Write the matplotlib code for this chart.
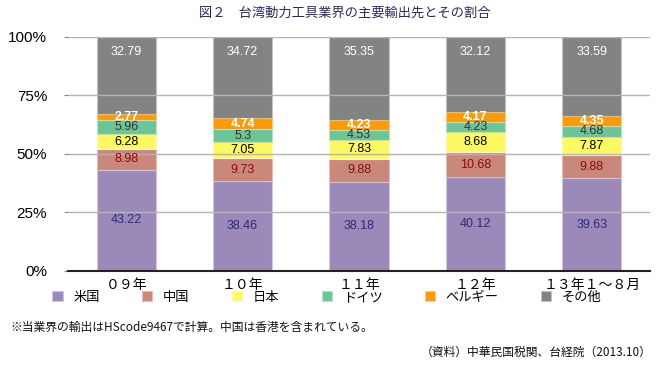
import matplotlib
matplotlib.use("Agg")
import matplotlib.pyplot as plt
import numpy as np

plt.rcParams['font.family'] = ['Liberation Sans', 'Noto Sans CJK JP', 'DejaVu Sans']

categories = ['０９年', '１０年', '１１年', '１２年', '１３年１～８月']
series_names = ['米国', '中国', '日本', 'ドイツ', 'ベルギー', 'その他']
us = [43.22, 38.46, 38.18, 40.12, 39.63]
china = [8.98, 9.73, 9.88, 10.68, 9.88]
japan = [6.28, 7.05, 7.83, 8.68, 7.87]
germany = [5.96, 5.3, 4.53, 4.23, 4.68]
belgium = [2.77, 4.74, 4.23, 4.17, 4.35]
others = [32.79, 34.72, 35.35, 32.12, 33.59]
y_ticks = [0, 25, 50, 75, 100]
y_ticklabels = ['0%', '25%', '50%', '75%', '100%']

series = [us, china, japan, germany, belgium, others]
colors = ['#9b8ab9', '#c9887b', '#fdf965', '#6dc597', '#f99b0a', '#828483']
edges = ['#cfc6e0', '#e2bdb4', '#fefcb2', '#b5e1ca', '#fbcb84', '#c0c1c0']
txt_colors = ['#2b2a78', '#8b0a14', '#000000', '#333333', '#ffffff', '#ffffff']
txt_weights = ['normal', 'normal', 'normal', 'normal', 'bold', 'normal']

fig = plt.figure(figsize=(6.65, 3.65), dpi=100)
ax = fig.add_axes([68/665, 1-271/365, (650-68)/665, (271-37)/365])

x = np.arange(len(categories))
bottom = np.zeros(len(categories))
handles = []
for i, vals in enumerate(series):
    vals = np.array(vals)
    b = ax.bar(x, vals, bottom=bottom, width=0.51, color=colors[i],
               edgecolor=edges[i], linewidth=0.8, zorder=1, label=series_names[i])
    handles.append(b)
    for xi, v, bt in zip(x, vals, bottom):
        if i == 5:
            yp = 100 - 6.3
        else:
            yp = bt + v / 2
        ax.text(xi, yp, f'{v:g}', ha='center', va='center', fontsize=9,
                color=txt_colors[i], fontweight=txt_weights[i], zorder=4,
                family=['Liberation Sans'])
    bottom = bottom + vals

ax.set_ylim(0, 100)
ax.set_xlim(-0.5, len(categories) - 0.5)
ax.set_yticks(y_ticks)
ax.set_yticklabels(y_ticklabels, fontsize=11)
ax.set_xticks(x)
ax.set_xticklabels(categories, fontsize=10, family=['Noto Sans CJK JP'])
ax.tick_params(axis='x', length=0, pad=5)
ax.tick_params(axis='y', length=3, color='#888888', pad=12)
ax.yaxis.grid(True, color='#b5b5b5', linewidth=1.0)
ax.set_axisbelow(False)
for s in ['top', 'right', 'left']:
    ax.spines[s].set_visible(False)
ax.spines['bottom'].set_color('#222222')
ax.spines['bottom'].set_linewidth(1.5)
ax.spines['bottom'].set_zorder(5)

leg = fig.legend(handles=handles, labels=series_names, loc='upper left',
                 bbox_to_anchor=(52/665, 1-291/365), ncol=6, frameon=False,
                 handlelength=0.8, handleheight=0.8, handletextpad=0.8,
                 columnspacing=3.2, borderpad=0, borderaxespad=0,
                 prop={'family': 'Noto Sans CJK JP', 'size': 9.5})

fig.text(345/665, 1-13/365, '図２　台湾動力工具業界の主要輸出先とその割合', ha='center', va='center',
         fontsize=9.5, color='#2a2a5a', family=['Noto Sans CJK JP'])
fig.text(10/665, 1-327/365, '※当業界の輸出はHScode9467で計算。中国は香港を含まれている。', ha='left', va='center',
         fontsize=8.5, color='#111111', family=['Noto Sans CJK JP'])
fig.text(652/665, 1-352/365, '（資料）中華民国税関、台経院（2013.10）', ha='right', va='center',
         fontsize=8.5, color='#111111', family=['Noto Sans CJK JP'])

fig.savefig('out.png', dpi=100)
